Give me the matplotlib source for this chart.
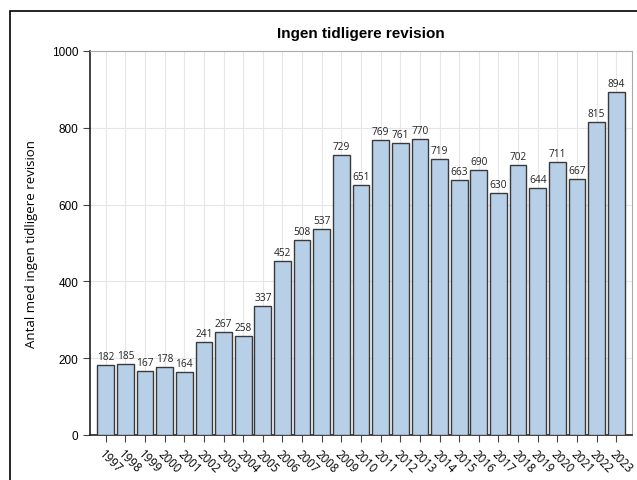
import matplotlib
matplotlib.use("Agg")
import matplotlib.pyplot as plt
from matplotlib.patches import Rectangle

years = [str(y) for y in range(1997, 2024)]
values = [182, 185, 167, 178, 164, 241, 267, 258, 337, 452, 508, 537, 729, 651,
          769, 761, 770, 719, 663, 690, 630, 702, 644, 711, 667, 815, 894]
yticks = [0, 200, 400, 600, 800, 1000]

plt.rcParams['font.family'] = ['Open Sans', 'DejaVu Sans']

fig = plt.figure(figsize=(6.37, 4.81), dpi=100)
fig.patches.append(Rectangle((10/637, -0.1), 1.2, (481-12)/481 + 0.1, transform=fig.transFigure,
                             fill=False, edgecolor='black', linewidth=1.2))
ax = fig.add_axes([90/637, (481-436)/481, (632-90)/637, (436-52)/481])

x = list(range(len(years)))
bars = ax.bar(x, values, width=0.85, color='#b8cfe8', edgecolor='#3a3a3a', linewidth=1.0, zorder=3)
for xi, v in zip(x, values):
    ax.text(xi, v + 8, str(v), ha='center', va='bottom', fontsize=7.3, color='#222222', zorder=4)

ax.set_xlim(-0.8, len(years) - 0.2)
ax.set_ylim(0, 1000)
ax.set_xticks(x)
ax.set_xticklabels(years, rotation=-45, ha='left', va='top', rotation_mode='anchor', fontsize=8.3)
ax.set_yticks(yticks)
ax.set_yticklabels([str(t) for t in yticks], fontsize=8.5, family=['Liberation Sans', 'DejaVu Sans'])
ax.grid(True, color='#e6e6e6', linewidth=0.8, zorder=0)
ax.set_axisbelow(True)
for s in ['top', 'right']:
    ax.spines[s].set_color('#aaaaaa')
for s in ['left', 'bottom']:
    ax.spines[s].set_color('#222222')
    ax.spines[s].set_linewidth(1.2)
ax.tick_params(length=5, color='#444444')
ax.set_ylabel('Antal med ingen tidligere revision', fontsize=9.5, labelpad=10)
ax.set_title('Ingen tidligere revision', fontsize=11, fontweight='bold', pad=10,
             family=['Liberation Sans', 'DejaVu Sans'])

fig.savefig('out.png', dpi=100)
